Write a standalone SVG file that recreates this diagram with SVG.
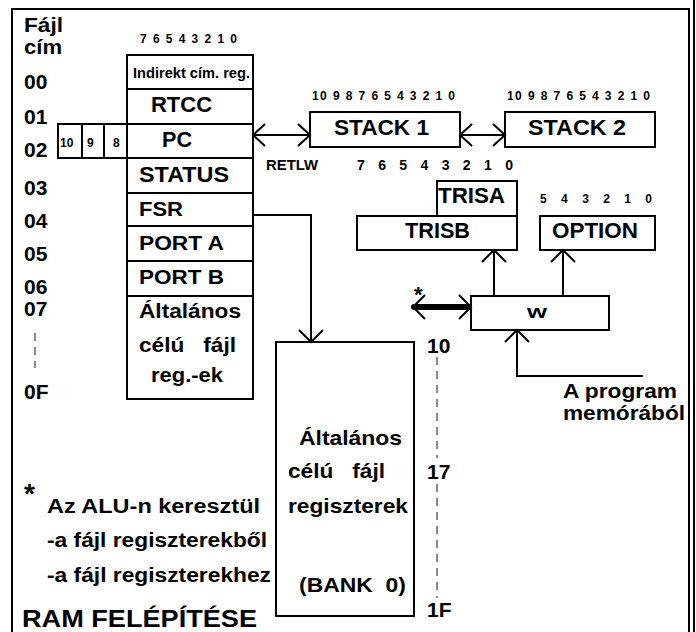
<svg xmlns="http://www.w3.org/2000/svg" width="696" height="632" viewBox="0 0 696 632">
<style>
text{font-family:"Liberation Sans",Arial,sans-serif;font-weight:bold;fill:#000}
.box{fill:#fff;stroke:#000;stroke-width:2}
.ln{fill:none;stroke:#000;stroke-width:2}
.f21{font-size:21px}
.f22{font-size:22px}
.f14{font-size:14px}
.f12{font-size:12px}
.dash{fill:none;stroke:#666;stroke-width:1.5;stroke-dasharray:8 6}
</style>
<rect width="696" height="632" fill="#fff"/>
<g id="frame">
<path class="ln" d="M12,632 V9 H689 V632"/>
<path class="ln" d="M694,0 V632"/>
</g>
<g id="addresses">
<text class="f21" x="24" y="32" textLength="39" lengthAdjust="spacingAndGlyphs">Fájl</text>
<text class="f21" x="24" y="54" textLength="38" lengthAdjust="spacingAndGlyphs">cím</text>
<text class="f21" x="24" y="89">00</text>
<text class="f21" x="24" y="124">01</text>
<text class="f21" x="24" y="157">02</text>
<text class="f21" x="24" y="195">03</text>
<text class="f21" x="24" y="228">04</text>
<text class="f21" x="24" y="261">05</text>
<text class="f21" x="24" y="294">06</text>
<text class="f21" x="24" y="316">07</text>
<text class="f21" x="24" y="399">0F</text>
<path class="dash" d="M35,333 V368" stroke-dasharray="6 5"/>
</g>
<g id="registers">
<text class="f12" x="140" y="43" textLength="97" lengthAdjust="spacing">7 6 5 4 3 2 1 0</text>
<rect class="box" x="127" y="55" width="126" height="344"/>
<path class="ln" d="M127,89 H253 M127,124 H253 M127,158 H253 M127,193 H253 M127,226 H253 M127,261 H253 M127,296 H253"/>
<text class="f14" x="133" y="78" textLength="117" lengthAdjust="spacingAndGlyphs">Indirekt cím. reg.</text>
<text class="f22" x="151" y="112" textLength="61" lengthAdjust="spacingAndGlyphs">RTCC</text>
<text class="f22" x="162" y="147" textLength="30" lengthAdjust="spacingAndGlyphs">PC</text>
<text class="f22" x="139" y="182" textLength="90" lengthAdjust="spacingAndGlyphs">STATUS</text>
<text class="f21" x="139" y="216" textLength="44" lengthAdjust="spacingAndGlyphs">FSR</text>
<text class="f21" x="139" y="250" textLength="85" lengthAdjust="spacingAndGlyphs">PORT A</text>
<text class="f21" x="139" y="284" textLength="85" lengthAdjust="spacingAndGlyphs">PORT B</text>
<text class="f21" x="139" y="318" textLength="102" lengthAdjust="spacingAndGlyphs">Általános</text>
<text class="f21" x="139" y="352" textLength="97" lengthAdjust="spacingAndGlyphs" xml:space="preserve">célú   fájl</text>
<text class="f21" x="151" y="382" textLength="72" lengthAdjust="spacingAndGlyphs">reg.-ek</text>
</g>
<g id="pc-high">
<rect class="box" x="58" y="124" width="69" height="34"/>
<path class="ln" d="M82,124 V158 M104,124 V158"/>
<text class="f12" x="60" y="147">10</text>
<text class="f12" x="87" y="147">9</text>
<text class="f12" x="113" y="147">8</text>
</g>
<g id="stack1">
<text class="f12" x="312" y="100" textLength="143" lengthAdjust="spacing">10 9 8 7 6 5 4 3 2 1 0</text>
<rect class="box" x="310" y="112" width="150" height="35"/>
<text class="f22" x="334" y="135" textLength="95" lengthAdjust="spacingAndGlyphs">STACK 1</text>
</g>
<g id="stack2">
<text class="f12" x="507" y="100" textLength="143" lengthAdjust="spacing">10 9 8 7 6 5 4 3 2 1 0</text>
<rect class="box" x="505" y="112" width="150" height="35"/>
<text class="f22" x="528" y="135" textLength="98" lengthAdjust="spacingAndGlyphs">STACK 2</text>
</g>
<g id="retlw">
<text class="f14" x="266" y="170" textLength="52" lengthAdjust="spacingAndGlyphs">RETLW</text>
<text class="f14" x="357" y="170" textLength="156" lengthAdjust="spacing">7 6 5 4 3 2 1 0</text>
</g>
<g id="trisa">
<rect class="box" x="437" y="181" width="80" height="35"/>
<text class="f22" x="438" y="203" textLength="67" lengthAdjust="spacingAndGlyphs">TRISA</text>
</g>
<g id="trisb">
<rect class="box" x="357" y="216" width="160" height="34"/>
<text class="f22" x="405" y="238" textLength="65" lengthAdjust="spacingAndGlyphs">TRISB</text>
</g>
<g id="option">
<text class="f12" x="540" y="203" textLength="112" lengthAdjust="spacing">5 4 3 2 1 0</text>
<rect class="box" x="540" y="216" width="115" height="34"/>
<text class="f22" x="552" y="238" textLength="86" lengthAdjust="spacingAndGlyphs">OPTION</text>
</g>
<g id="w">
<rect class="box" x="471" y="296" width="138" height="34"/>
<text x="527" y="318" font-size="18" textLength="20" lengthAdjust="spacingAndGlyphs">w</text>
</g>
<g id="bank0">
<rect class="box" x="276" y="342" width="138" height="274"/>
<text class="f21" x="299" y="445" textLength="103" lengthAdjust="spacingAndGlyphs">Általános</text>
<text class="f21" x="288" y="478" textLength="97" lengthAdjust="spacingAndGlyphs" xml:space="preserve">célú   fájl</text>
<text class="f21" x="288" y="513" textLength="120" lengthAdjust="spacingAndGlyphs">regiszterek</text>
<text class="f21" x="299" y="592" textLength="107" lengthAdjust="spacingAndGlyphs" xml:space="preserve">(BANK  0)</text>
<text class="f21" x="427" y="353">10</text>
<text class="f21" x="427" y="479">17</text>
<text class="f21" x="427" y="617">1F</text>
<path class="dash" d="M437,357 V458 M437,484 V598"/>
</g>
<g id="program-label">
<text class="f21" x="563" y="398" textLength="114" lengthAdjust="spacingAndGlyphs">A program</text>
<text class="f21" x="563" y="420" textLength="122" lengthAdjust="spacingAndGlyphs">memórából</text>
</g>
<g id="notes">
<text x="24" y="503" font-size="28">*</text>
<text x="47" y="513" font-size="20" textLength="213" lengthAdjust="spacingAndGlyphs">Az ALU-n keresztül</text>
<text x="47" y="547" font-size="20" textLength="220" lengthAdjust="spacingAndGlyphs">-a fájl regiszterekből</text>
<text x="47" y="582" font-size="20" textLength="224" lengthAdjust="spacingAndGlyphs">-a fájl regiszterekhez</text>
<text x="22" y="627" font-size="24" textLength="235" lengthAdjust="spacingAndGlyphs">RAM FELÉPÍTÉSE</text>
</g>
<g id="connectors">
<path class="ln" d="M253,135 H310 M265,124 L253,135 L265,146 M298,124 L310,135 L298,146"/>
<path class="ln" d="M460,135 H505 M472,124 L460,135 L472,146 M493,124 L505,135 L493,146"/>
<path class="ln" d="M253,215 H311 V342 M299,330 L311,342 L323,330"/>
<path class="ln" d="M494,296 V250 M482,262 L494,250 L506,262"/>
<path class="ln" d="M563,296 V250 M551,262 L563,250 L575,262"/>
<path class="ln" d="M643,376 H517 V330 M505,342 L517,330 L529,342"/>
<path d="M414,307 H469" fill="none" stroke="#000" stroke-width="6" stroke-linecap="round"/>
<path class="ln" d="M425,295 L413,307 L425,319 M459,295 L471,307 L459,319"/>
<text x="414" y="302" font-size="22">*</text>
</g>
</svg>
